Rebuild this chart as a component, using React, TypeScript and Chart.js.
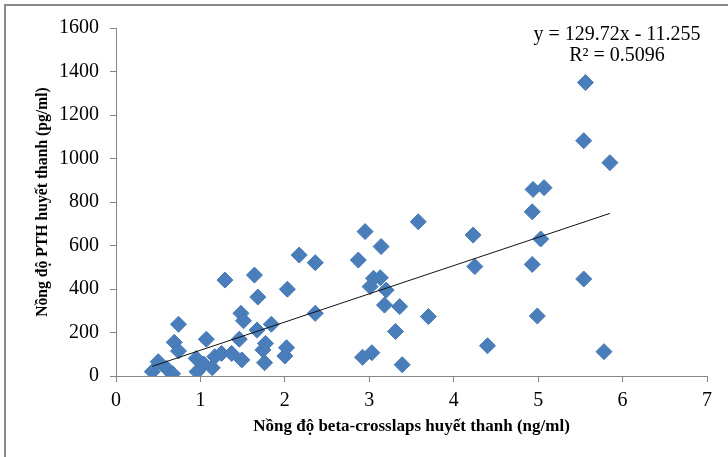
import React, { useEffect, useRef } from "react";
import { Chart, registerables } from "chart.js";

Chart.register(...registerables);

// beta-crosslaps (ng/ml)
const xValues: number[] = [
  0.43, 0.5, 0.6, 0.67, 0.69, 0.74, 0.74, 0.95, 0.96, 1.04, 1.07, 1.14, 1.17, 1.25,
  1.29, 1.37, 1.46, 1.48, 1.49, 1.51, 1.64, 1.67, 1.68, 1.74, 1.76, 1.77, 1.84, 2.0,
  2.02, 2.03, 2.17, 2.36, 2.36, 2.87, 2.92, 2.95, 3.01, 3.03, 3.05, 3.13, 3.14, 3.18,
  3.2, 3.31, 3.36, 3.39, 3.58, 3.7, 4.23, 4.25, 4.4, 4.93, 4.93, 4.94, 4.99, 5.03,
  5.07, 5.54, 5.54, 5.56, 5.78, 5.85,
];
// PTH (pg/ml)
const yValues: number[] = [
  20, 66, 35, 10, 155, 115, 238, 81, 20, 55, 169, 38, 89, 104,
  441, 104, 169, 288, 74, 254, 464, 211, 363, 120, 61, 150, 238, 92,
  130, 399, 556, 521, 288, 533, 86, 664, 411, 107, 449, 452, 595, 326,
  395, 205, 319, 52, 709, 273, 648, 503, 139, 755, 513, 858, 276, 630,
  866, 1082, 446, 1349, 112, 981,
];

const trendSlope = 129.72;
const trendIntercept = -11.255;
const equationLines: string[] = ["y = 129.72x - 11.255", "R\u00B2 = 0.5096"];

const xTitle = "Nồng độ beta-crosslaps huyết thanh (ng/ml)";
const yTitle = "Nồng độ PTH huyết thanh (pg/ml)";

const FONT = "'Liberation Serif', 'Times New Roman', serif";
const AXIS_GRAY = "#868686";

export default function App() {
  const canvasRef = useRef<HTMLCanvasElement | null>(null);

  useEffect(() => {
    const canvas = canvasRef.current;
    if (!canvas) return;

    const points = xValues.map((x, i) => ({ x, y: yValues[i] }));
    const xMin = Math.min(...xValues);
    const xMax = Math.max(...xValues);
    const trend = [
      { x: xMin, y: trendSlope * xMin + trendIntercept },
      { x: xMax, y: trendSlope * xMax + trendIntercept },
    ];

    const equationPlugin = {
      id: "equation",
      afterDraw(chart: any) {
        const { ctx, chartArea } = chart;
        ctx.save();
        ctx.fillStyle = "#000";
        ctx.font = `20px ${FONT}`;
        ctx.textAlign = "center";
        ctx.textBaseline = "middle";
        const cx = chartArea.right - 90;
        ctx.fillText(equationLines[0], cx, chartArea.top + 7);
        ctx.fillText(equationLines[1], cx, chartArea.top + 28);
        ctx.restore();
      },
    };

    const chart = new Chart(canvas, {
      type: "scatter",
      data: {
        datasets: [
          {
            type: "line",
            label: "trend",
            data: trend,
            borderColor: "#111111",
            borderWidth: 1,
            pointRadius: 0,
            fill: false,
            showLine: true,
          } as any,
          {
            label: "data",
            data: points,
            pointStyle: "rectRot",
            pointRadius: 8,
            backgroundColor: "#4A7EBB",
            borderColor: "#4678B5",
            borderWidth: 1,
          },
        ],
      },
      options: {
        responsive: false,
        animation: false,
        layout: { padding: { left: 34, right: 21, top: 28, bottom: 20 } },
        plugins: { legend: { display: false }, tooltip: { enabled: false } },
        scales: {
          x: {
            type: "linear",
            min: 0,
            max: 7,
            afterFit: (scale: any) => {
              scale.height = 61;
            },
            ticks: {
              stepSize: 1,
              color: "#000",
              padding: 7,
              font: { family: FONT, size: 20 },
              callback: (v: any) => String(v),
            },
            grid: {
              drawOnChartArea: false,
              drawTicks: true,
              tickLength: 6,
              color: AXIS_GRAY,
            },
            border: { display: true, color: AXIS_GRAY, width: 1 },
            title: {
              display: true,
              text: xTitle,
              color: "#000",
              padding: 0,
              font: { family: FONT, size: 17, weight: "bold" },
            },
          },
          y: {
            type: "linear",
            min: 0,
            max: 1600,
            afterFit: (scale: any) => {
              scale.width = 82;
            },
            ticks: {
              stepSize: 200,
              color: "#000",
              padding: 11,
              font: { family: FONT, size: 20 },
              callback: (v: any) => String(v),
            },
            grid: {
              drawOnChartArea: false,
              drawTicks: true,
              tickLength: 6,
              color: AXIS_GRAY,
            },
            border: { display: true, color: AXIS_GRAY, width: 1 },
            title: {
              display: true,
              text: yTitle,
              color: "#000",
              padding: 0,
              font: { family: FONT, size: 15.7, weight: "bold" },
            },
          },
        },
      },
      plugins: [equationPlugin],
    });

    return () => {
      chart.destroy();
    };
  }, []);

  return (
    <div
      style={{
        position: "absolute",
        left: 0,
        top: 0,
        width: 728,
        height: 457,
        overflow: "hidden",
        background: "#ffffff",
      }}
    >
      <div
        style={{
          position: "absolute",
          left: 4,
          top: 4,
          width: 760,
          height: 480,
          border: "2px solid #8a8a8a",
          boxSizing: "border-box",
        }}
      />
      <canvas
        ref={canvasRef}
        width={728}
        height={457}
        style={{ position: "absolute", left: 0, top: 0, display: "block" }}
      />
    </div>
  );
}
